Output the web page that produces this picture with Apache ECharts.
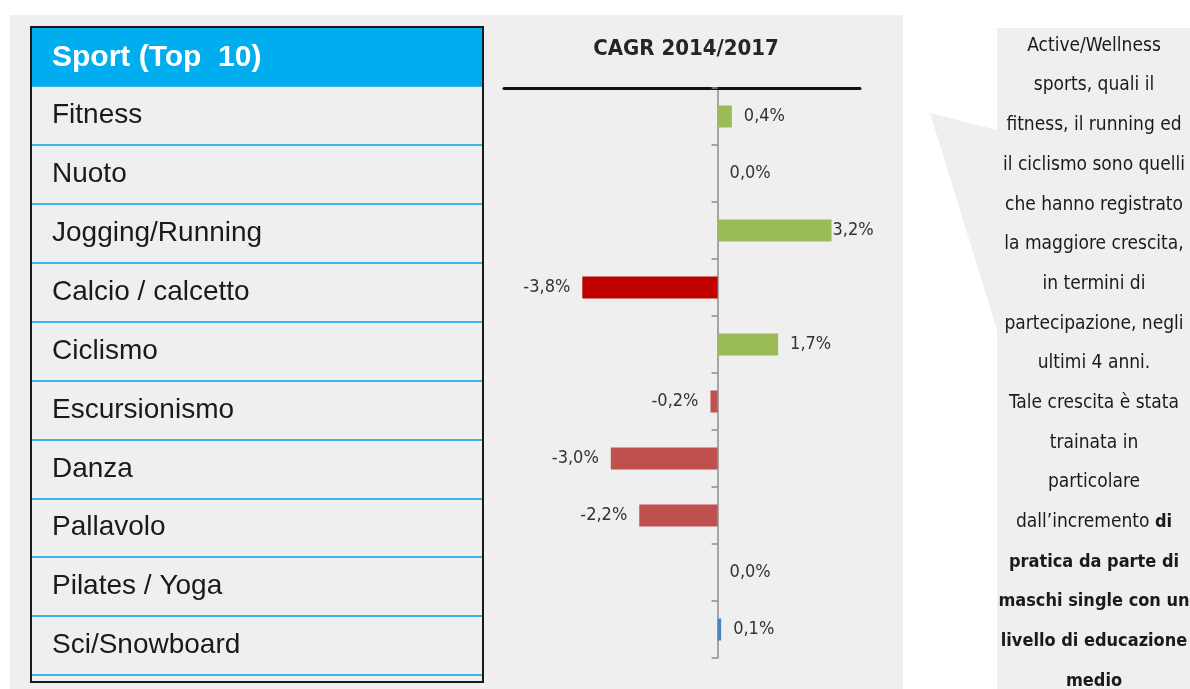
<!DOCTYPE html>
<html lang="it">
<head>
    <meta charset="utf-8">
    <title>CAGR 2014/2017 - Sport (Top 10)</title>
    <script src="https://cdn.jsdelivr.net/npm/echarts@6/dist/echarts.min.js"></script>
    <style type="text/css">
        html, body {
            width: 100%;
            height: 100%;
            margin: 0px;
            padding: 0px;
            background: #ffffff;
        }

        #main {
            width: 1190px;
            height: 689px;
        }
    </style>
</head>
<body>
<div id="main"></div>
<script>
    // dati
    var sports = ['Fitness', 'Nuoto', 'Jogging/Running', 'Calcio / calcetto', 'Ciclismo',
        'Escursionismo', 'Danza', 'Pallavolo', 'Pilates / Yoga', 'Sci/Snowboard'];
    var cagr = [0.4, 0.0, 3.2, -3.8, 1.7, -0.2, -3.0, -2.2, 0.0, 0.1];
    var barColors = ['#9bbb59', '#9bbb59', '#9bbb59', '#c00000', '#9bbb59',
        '#c0504d', '#c0504d', '#c0504d', '#9bbb59', '#4f81bd'];
    var tableTitle = 'Sport (Top  10)';
    var chartTitle = 'CAGR 2014/2017';
    var noteLines = [
        'Active/Wellness',
        'sports, quali il',
        'fitness, il running ed',
        'il ciclismo sono quelli',
        'che hanno registrato',
        'la maggiore crescita,',
        'in termini di',
        'partecipazione, negli',
        'ultimi 4 anni.',
        'Tale crescita è stata',
        'trainata in',
        'particolare',
        'dall\u2019incremento {b|di}',
        '{b|pratica da parte di}',
        '{b|maschi single con un}',
        '{b|livello di educazione}',
        '{b|medio}'
    ];

    var narrow = '"Liberation Sans Narrow", "DejaVu Sans Condensed", sans-serif';
    var arial = '"Liberation Sans", Arial, sans-serif';
    var maxVal = Math.max.apply(null, cagr);

    var myChart = echarts.init(document.getElementById('main'));

    var barData = cagr.map(function (v, i) {
        return {
            value: v,
            itemStyle: {color: barColors[i]},
            label: {
                position: v < 0 ? 'left' : 'right',
                distance: v === maxVal ? 1 : 12
            }
        };
    });

    var option = {
        animation: false,
        title: {
            text: chartTitle,
            left: 681,
            top: 33,
            textAlign: 'center',
            textStyle: {
                fontFamily: narrow,
                fontWeight: 'bold',
                fontSize: 22,
                color: '#262626'
            }
        },
        grid: [
            // tabella a sinistra
            {left: 31, top: 86, width: 452, height: 589},
            // grafico a barre
            {left: 504, top: 88, width: 356, height: 570}
        ],
        xAxis: [
            {gridIndex: 0, type: 'value', show: false},
            {
                gridIndex: 1,
                type: 'value',
                min: -6,
                max: 4,
                position: 'top',
                axisLine: {show: true, onZero: false, lineStyle: {color: '#111', width: 3}},
                axisTick: {show: false},
                axisLabel: {show: false},
                splitLine: {show: false}
            }
        ],
        yAxis: [
            {
                gridIndex: 0,
                type: 'category',
                data: sports,
                inverse: true,
                axisLine: {show: false},
                axisTick: {show: false},
                axisLabel: {
                    inside: true,
                    margin: 21,
                    align: 'left',
                    fontFamily: arial,
                    fontSize: 28,
                    color: '#1a1a1a'
                },
                splitLine: {show: true, lineStyle: {color: '#3db5ea', width: 2}}
            },
            {
                gridIndex: 1,
                type: 'category',
                data: sports,
                inverse: true,
                axisLine: {show: true, onZero: true, lineStyle: {color: '#8c8c8c', width: 1.5}},
                axisTick: {show: true, length: 6, lineStyle: {color: '#8c8c8c', width: 1.5}},
                axisLabel: {show: false},
                splitLine: {show: false}
            }
        ],
        series: [{
            type: 'bar',
            xAxisIndex: 1,
            yAxisIndex: 1,
            barWidth: 22,
            data: barData,
            label: {
                show: true,
                fontFamily: narrow,
                fontSize: 18,
                color: '#333',
                formatter: function (p) {
                    return p.value.toFixed(1).replace('.', ',') + '%';
                }
            }
        }],
        graphic: [
            {
                type: 'rect', z: -100, silent: true,
                shape: {x: 10, y: 15, width: 893, height: 674},
                style: {fill: '#efefef'}
            },
            {
                type: 'polygon', z: -100, silent: true,
                shape: {points: [[997, 28], [1190, 28], [1190, 689], [997, 689], [997, 330], [930, 113], [997, 130]]},
                style: {fill: '#efefef'}
            },
            {
                type: 'rect', z: 5, silent: true,
                shape: {x: 32, y: 28, width: 450, height: 58},
                style: {fill: '#00aeef'}
            },
            {
                type: 'text', z: 6, silent: true,
                x: 52, y: 58,
                style: {
                    text: tableTitle,
                    fill: '#fff',
                    fontFamily: arial,
                    fontWeight: 'bold',
                    fontSize: 30,
                    verticalAlign: 'middle'
                }
            },
            {
                type: 'rect', z: 6, silent: true,
                shape: {x: 31, y: 27, width: 452, height: 655},
                style: {fill: 'none', stroke: '#1a1a1a', lineWidth: 2}
            },
            {
                type: 'text', z: 6, silent: true,
                x: 1094, y: 26,
                style: {
                    text: noteLines.join('\n'),
                    align: 'center',
                    verticalAlign: 'top',
                    fill: '#1a1a1a',
                    fontFamily: narrow,
                    fontSize: 19,
                    lineHeight: 39.7,
                    rich: {
                        b: {fontFamily: narrow, fontSize: 18, fontWeight: 'bold', lineHeight: 39.7, fill: '#1a1a1a'}
                    }
                }
            }
        ]
    };

    myChart.setOption(option);
</script>
</body>
</html>
